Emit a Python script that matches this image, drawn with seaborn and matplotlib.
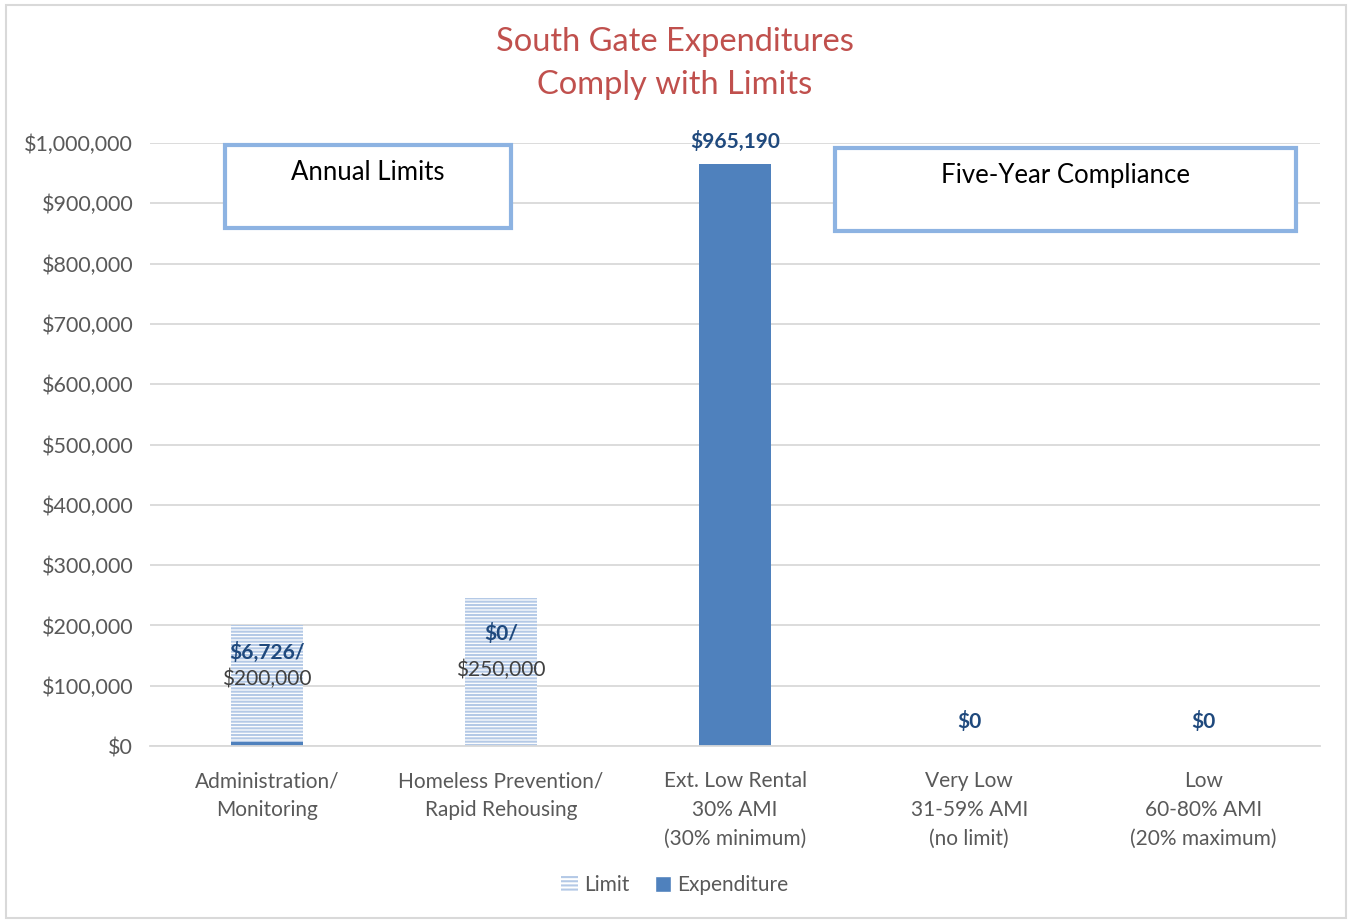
import numpy as np
import pandas as pd
import matplotlib
matplotlib.use("Agg")
import matplotlib.pyplot as plt
from matplotlib.patches import Rectangle, Patch
import seaborn as sns

# ---- data ----
categories = [
    "Administration/\nMonitoring",
    "Homeless Prevention/\nRapid Rehousing",
    "Ext. Low Rental\n30% AMI\n(30% minimum)",
    "Very Low\n31-59% AMI\n(no limit)",
    "Low\n60-80% AMI\n(20% maximum)",
]
expenditure = [6726, 0, 965190, 0, 0]
limit = [200000, 245000, np.nan, np.nan, np.nan]
limit_labels = ["$200,000", "$250,000", "", "", ""]
y_ticks = list(range(0, 1000001, 100000))

BAR_BLUE = "#4f81bd"
LIMIT_BLUE = "#b4c9e6"
LABEL_BLUE = "#1f497d"
TEXT_GREY = "#595959"
GRID_GREY = "#d9d9d9"
BOX_BLUE = "#8db3e2"

sns.set_theme(style="white")
plt.rcParams["font.family"] = ["Lato", "DejaVu Sans"]
plt.rcParams["hatch.linewidth"] = 1.5

df = pd.DataFrame({"category": categories, "Expenditure": expenditure, "Limit": limit})

fig = plt.figure(figsize=(13.5, 9.21), dpi=100)
ax = fig.add_axes([0.111, 0.19, 0.867, 0.6547])

# limit bars (hatched) behind the expenditure bars
sns.barplot(data=df, x="category", y="Limit", ax=ax, width=0.31,
            color="white", edgecolor=LIMIT_BLUE, linewidth=0, zorder=1)
for p in ax.patches:
    p.set_hatch("-----")
    p.set_edgecolor(LIMIT_BLUE)
    p.set_linewidth(0)

sns.barplot(data=df, x="category", y="Expenditure", ax=ax, width=0.31,
            color=BAR_BLUE, saturation=1, linewidth=0, zorder=2)

ax.set_xlim(-0.5, len(categories) - 0.5)
ax.set_ylim(0, 1000000)
ax.set_yticks(y_ticks)
ax.set_yticklabels([f"${v:,.0f}" for v in y_ticks], color=TEXT_GREY, fontsize=15.5)
ax.set_xticks(range(len(categories)))
ax.set_xticklabels(categories, color=TEXT_GREY, fontsize=15, linespacing=1.55)
ax.tick_params(axis="y", length=0, pad=12)
ax.tick_params(axis="x", length=0, pad=18)
ax.set_xlabel("")
ax.set_ylabel("")
ax.yaxis.grid(True, color=GRID_GREY, linewidth=1.3, zorder=0)
ax.set_axisbelow(True)
for side in ["top", "right", "left"]:
    ax.spines[side].set_visible(False)
ax.spines["bottom"].set_color(GRID_GREY)
ax.spines["bottom"].set_linewidth(1.3)

# data labels
for i, (e, lim) in enumerate(zip(expenditure, limit)):
    if np.isnan(lim):
        ax.annotate(f"${e:,.0f}", (i, e), xytext=(0, 9 if e > 0 else 10),
                    textcoords="offset points", ha="center", va="bottom",
                    color=LABEL_BLUE, fontsize=15, fontweight="bold")
    else:
        ax.annotate(f"${e:,.0f}/", (i, lim), xytext=(0, -12 if e > 0 else -18),
                    textcoords="offset points", ha="center", va="top",
                    color=LABEL_BLUE, fontsize=15, fontweight="bold", zorder=5)
        ax.annotate(limit_labels[i], (i, lim), xytext=(0, -31 if e > 0 else -44),
                    textcoords="offset points", ha="center", va="top",
                    color="#404040", fontsize=15, zorder=5)

# title
fig.text(0.5, 0.971, "South Gate Expenditures\nComply with Limits", ha="center", va="top",
         color="#c0504d", fontsize=23.5, linespacing=1.55)

# annotation boxes
for x0, y0, w, h, label in [(225, 145, 286, 83, "Annual Limits"),
                            (835, 148, 461, 83, "Five-Year Compliance")]:
    fig.patches.append(Rectangle((x0 / 1350, 1 - (y0 + h) / 921), w / 1350, h / 921,
                                 transform=fig.transFigure, facecolor="white",
                                 edgecolor=BOX_BLUE, linewidth=3, zorder=10))
    fig.text((x0 + w / 2) / 1350, 1 - (y0 + 28) / 921, label, ha="center", va="center",
             fontsize=18.5, color="black", zorder=11)

# legend
handles = [Patch(facecolor="white", edgecolor=LIMIT_BLUE, hatch="----", linewidth=0, label="Limit"),
           Patch(facecolor=BAR_BLUE, label="Expenditure")]
fig.legend(handles=handles, loc="center", bbox_to_anchor=(0.5, 0.039), ncol=2, frameon=False,
           fontsize=15, labelcolor=TEXT_GREY, handlelength=0.8, handleheight=0.8,
           handletextpad=0.3, columnspacing=1.2)

# outer border
fig.patches.append(Rectangle((6 / 1350, 3 / 921), 1340 / 1350, 913 / 921, transform=fig.transFigure,
                             fill=False, edgecolor=GRID_GREY, linewidth=1.5))

fig.savefig("out.png", dpi=100)
